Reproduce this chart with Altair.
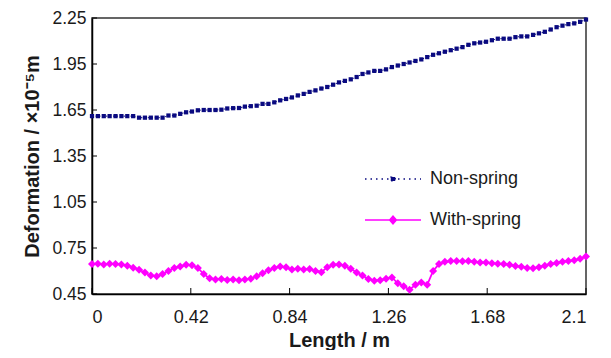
import altair as alt
import pandas as pd

# Length positions (m)
length_m = [round(i * 0.025, 3) for i in range(85)]

non_spring = [
    1.61, 1.61, 1.61, 1.61, 1.61, 1.61, 1.61, 1.61, 1.60, 1.60,
    1.60, 1.60, 1.60, 1.614, 1.614, 1.625, 1.635, 1.64, 1.648, 1.65,
    1.65, 1.65, 1.652, 1.66, 1.662, 1.663, 1.672, 1.675, 1.678, 1.69,
    1.69, 1.70, 1.713, 1.722, 1.732, 1.745, 1.755, 1.768, 1.778, 1.79,
    1.80, 1.815, 1.83, 1.84, 1.85, 1.865, 1.885, 1.895, 1.905, 1.905,
    1.915, 1.93, 1.94, 1.95, 1.96, 1.97, 1.98, 1.995, 2.01, 2.02,
    2.03, 2.04, 2.05, 2.06, 2.075, 2.085, 2.09, 2.095, 2.105, 2.115,
    2.115, 2.115, 2.125, 2.13, 2.13, 2.14, 2.15, 2.16, 2.175, 2.19,
    2.20, 2.21, 2.215, 2.225, 2.24,
]

with_spring = [
    0.645, 0.648, 0.643, 0.647, 0.645, 0.643, 0.635, 0.622, 0.608, 0.59,
    0.57, 0.565, 0.58, 0.60, 0.62, 0.63, 0.64, 0.638, 0.62, 0.58,
    0.552, 0.545, 0.548, 0.542, 0.545, 0.54, 0.545, 0.55, 0.565, 0.585,
    0.605, 0.62, 0.63, 0.625, 0.61, 0.615, 0.61, 0.613, 0.60, 0.592,
    0.625, 0.64, 0.643, 0.635, 0.615, 0.59, 0.57, 0.548, 0.537, 0.54,
    0.55, 0.558, 0.52, 0.50, 0.478, 0.51, 0.525, 0.51, 0.60, 0.645,
    0.66, 0.665, 0.665, 0.663, 0.665, 0.66, 0.655, 0.655, 0.65, 0.648,
    0.645, 0.64, 0.632, 0.628, 0.62, 0.618, 0.625, 0.635, 0.645, 0.652,
    0.66, 0.665, 0.67, 0.68, 0.695,
]

x_ticks = [0, 0.42, 0.84, 1.26, 1.68, 2.1]
y_ticks = [0.45, 0.75, 1.05, 1.35, 1.65, 1.95, 2.25]

NAVY = "#0a0a80"
MAGENTA = "#ff00ff"
FONT = "Liberation Sans"

df_a = pd.DataFrame({"x": length_m, "y": non_spring, "series": "Non-spring"})
df_b = pd.DataFrame({"x": length_m, "y": with_spring, "series": "With-spring"})

xs = alt.Scale(domain=[0, 2.1], nice=False, zero=False)
ys = alt.Scale(domain=[0.45, 2.25], nice=False, zero=False)

x_axis = alt.Axis(values=x_ticks, labelExpr="toString(datum.value)", title="Length / m",
                  labelPadding=14, titlePadding=4, labelFontSize=18)
y_axis = alt.Axis(values=y_ticks, format=".2f", title="Deformation / ×10⁻⁵m",
                  labelPadding=6, titlePadding=9, labelFontSize=17.5)
x_enc = alt.X("x:Q", scale=xs, axis=x_axis)
y_enc = alt.Y("y:Q", scale=ys, axis=y_axis)

leg_common = dict(title=None, orient="none", symbolSize=3136, labelFontSize=18, labelFont=FONT,
                  labelColor="#1a1a1a", labelOffset=8, padding=0)

legend_a = alt.Legend(legendX=272, legendY=132,
                      symbolType="M-1,0H1M-0.08,-0.07H0.08V0.07H-0.08Z",
                      symbolFillColor=NAVY, symbolStrokeColor=NAVY, symbolStrokeWidth=1.3,
                      symbolDash=[1.5, 4], **leg_common)
legend_b = alt.Legend(legendX=272, legendY=173,
                      symbolType="M-1,0H1M-0.12,0L0,-0.14L0.12,0L0,0.14Z",
                      symbolFillColor=MAGENTA, symbolStrokeColor=MAGENTA, symbolStrokeWidth=1.5,
                      **leg_common)

line_a = alt.Chart(df_a).mark_line(strokeWidth=1, strokeDash=[1.5, 2]).encode(
    x=x_enc, y=y_enc,
    color=alt.Color("series:N", scale=alt.Scale(domain=["Non-spring"], range=[NAVY]), legend=legend_a),
)
pts_a = alt.Chart(df_a).mark_point(shape="square", filled=True, size=18, color=NAVY, opacity=1).encode(
    x=x_enc, y=y_enc)

line_b = alt.Chart(df_b).mark_line(strokeWidth=1.8).encode(
    x=x_enc, y=y_enc,
    color=alt.Color("series:N", scale=alt.Scale(domain=["With-spring"], range=[MAGENTA]), legend=legend_b),
)
pts_b = alt.Chart(df_b).mark_point(shape="diamond", filled=True, size=64, color=MAGENTA, opacity=1).encode(
    x=x_enc, y=y_enc)

xtick_layer = alt.Chart(pd.DataFrame({"x": x_ticks})).mark_rule(color="black", strokeWidth=1).encode(
    x=x_enc, y=alt.value(270), y2=alt.value(276))
ytick_layer = alt.Chart(pd.DataFrame({"y": y_ticks})).mark_rule(color="black", strokeWidth=1).encode(
    y=y_enc, x=alt.value(0), x2=alt.value(5))

chart = alt.layer(line_a, pts_a, line_b, pts_b, xtick_layer, ytick_layer).resolve_scale(
    color="independent"
).properties(
    width=494, height=276,
    autosize=alt.AutoSizeParams(type="none"),
    padding={"left": 84, "top": 10, "right": 10, "bottom": 56},
).configure_view(
    stroke="#333333", strokeWidth=1.5
).configure_axis(
    grid=False, ticks=False, domainColor="black", domainWidth=1.5,
    labelFont=FONT, labelColor="#1a1a1a",
    titleFont=FONT, titleFontSize=20, titleFontWeight="bold", titleColor="#1a1a1a",
)

chart.save("out.html", embed_options={"renderer": "svg", "actions": False})
